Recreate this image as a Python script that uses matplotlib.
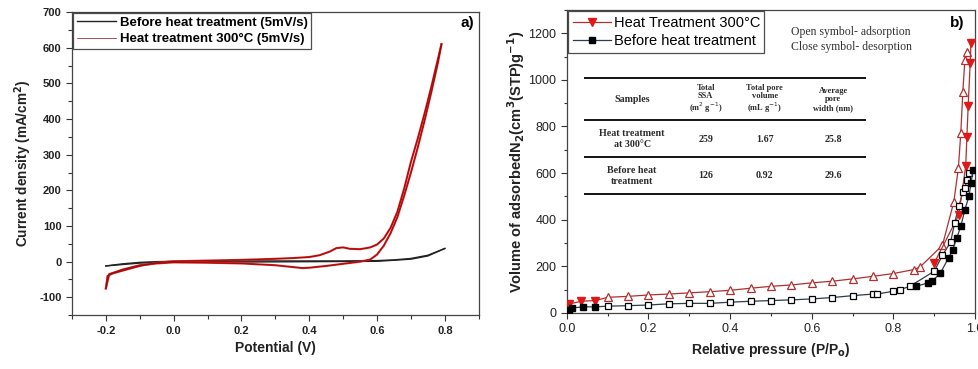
import matplotlib
matplotlib.use("Agg")
import matplotlib.pyplot as plt
from matplotlib.ticker import MultipleLocator

plt.rcParams['font.family'] = ['Liberation Sans', 'DejaVu Sans']
plt.rcParams['axes.unicode_minus'] = False

# --- (a) cyclic voltammetry, 5 mV/s ---
before_fwd_E = [-0.2, -0.15, -0.1, -0.05, 0.0, 0.2, 0.4, 0.5, 0.6, 0.65, 0.7, 0.75, 0.8]
before_fwd_J = [-12, -6, -2, 0, 1, 2, 2, 2, 3, 5, 9, 18, 37]
before_rev_E = [0.8, 0.75, 0.7, 0.6, 0.4, 0.2, 0.0, -0.1, -0.2]
before_rev_J = [37, 16, 7, 1, 0, -1, -1, -4, -12]

heat_fwd_E = [-0.2, -0.195, -0.18, -0.15, -0.1, -0.05, 0.0, 0.1, 0.2, 0.3, 0.35, 0.4, 0.43,
              0.46, 0.48, 0.5, 0.52, 0.55, 0.58, 0.6, 0.62, 0.64, 0.66, 0.68, 0.7, 0.72,
              0.74, 0.76, 0.78, 0.79]
heat_fwd_J = [-75, -40, -33, -25, -12, -3, 1, 3, 5, 8, 10, 13, 18, 28, 38, 40, 36, 35, 40,
              48, 65, 95, 140, 205, 280, 345, 415, 490, 570, 610]
heat_rev_E = [0.79, 0.78, 0.76, 0.74, 0.72, 0.70, 0.68, 0.66, 0.64, 0.62, 0.60, 0.58, 0.55,
              0.5, 0.45, 0.4, 0.38, 0.35, 0.3, 0.2, 0.1, 0.0, -0.05, -0.1, -0.15, -0.19, -0.2]
heat_rev_J = [610, 560, 475, 395, 320, 250, 185, 125, 80, 45, 20, 6, 0, -6, -12, -17, -18,
              -15, -10, -5, -3, -2, -5, -10, -22, -35, -75]

# --- (b) N2 isotherms ---
heat_low_p = [0.005, 0.035, 0.07]
heat_low_v = [38, 50, 53]
heat_ads_p = [0.1, 0.15, 0.2, 0.25, 0.3, 0.35, 0.4, 0.45, 0.5, 0.55, 0.6, 0.65, 0.7, 0.75,
              0.8, 0.85, 0.865, 0.92, 0.948, 0.959, 0.965, 0.970, 0.975, 0.98]
heat_ads_v = [67, 71, 77, 81, 86, 91, 97, 106, 114, 120, 129, 136, 146, 157, 169, 186, 197,
              290, 477, 621, 771, 950, 1086, 1121]
heat_des_p = [0.99, 0.988, 0.983, 0.98, 0.977, 0.96, 0.9]
heat_des_v = [1157, 1071, 886, 757, 629, 420, 214]

before_low_p = [0.005, 0.012, 0.04, 0.07]
before_low_v = [14, 21, 26, 26]
before_ads_p = [0.1, 0.15, 0.2, 0.25, 0.3, 0.35, 0.4, 0.45, 0.5, 0.55, 0.6, 0.65, 0.7, 0.75,
                0.76, 0.8, 0.815, 0.84, 0.9, 0.92, 0.94, 0.95, 0.96, 0.97, 0.975, 0.98, 0.985]
before_ads_v = [29, 31, 34, 39, 41, 41, 46, 50, 53, 56, 60, 66, 74, 81, 81, 93, 99, 114, 179,
                247, 304, 386, 457, 517, 536, 571, 600]
before_des_p = [0.995, 0.99, 0.985, 0.975, 0.965, 0.955, 0.945, 0.935, 0.915, 0.895, 0.885, 0.855]
before_des_v = [614, 557, 500, 443, 371, 321, 271, 236, 171, 136, 129, 114]

table_header = ["Samples", "Total\nSSA\n(m$^2$ g$^{-1}$)", "Total pore\nvolume\n(mL g$^{-1}$)",
                "Average\npore\nwidth (nm)"]
table_rows = [["Heat treatment\nat 300°C", "259", "1.67", "25.8"],
              ["Before heat\ntreatment", "126", "0.92", "29.6"]]

fig = plt.figure(figsize=(9.79, 3.69), dpi=100)
ax1 = fig.add_axes([0.0735, 0.146, 0.4155, 0.821])
ax2 = fig.add_axes([0.579, 0.152, 0.417, 0.821])

red = '#e01818'
dark_red = '#7a1010'

# left panel
ax1.plot(before_fwd_E, before_fwd_J, color='#222222', lw=1.0, label='Before heat treatment (5mV/s)')
ax1.plot(before_rev_E, before_rev_J, color='#222222', lw=1.0)
ax1.plot(heat_fwd_E, heat_fwd_J, color=red, lw=1.5)
ax1.plot(heat_rev_E, heat_rev_J, color=red, lw=1.5)
ax1.plot(heat_fwd_E, heat_fwd_J, color=dark_red, lw=0.5, label='Heat treatment 300°C (5mV/s)')
ax1.plot(heat_rev_E, heat_rev_J, color=dark_red, lw=0.5)
ax1.set_xlim(-0.3, 0.9)
ax1.set_ylim(-150, 700)
ax1.xaxis.set_major_locator(MultipleLocator(0.2))
ax1.xaxis.set_minor_locator(MultipleLocator(0.1))
ax1.yaxis.set_major_locator(MultipleLocator(100))
ax1.yaxis.set_minor_locator(MultipleLocator(50))
ax1.set_xticks([-0.2, 0.0, 0.2, 0.4, 0.6, 0.8])
ax1.set_xticklabels(['-0.2', '0.0', '0.2', '0.4', '0.6', '0.8'])
ax1.tick_params(labelsize=8, direction='out', length=4, width=0.8, colors='#333333', labelcolor='#222222')
ax1.tick_params(which='minor', direction='out', length=3, width=0.8, colors='#333333')
for lab in ax1.get_xticklabels() + ax1.get_yticklabels():
    lab.set_fontweight('bold')
ax1.set_xlabel('Potential (V)', fontsize=10, fontweight='bold', color='#222222')
ax1.set_ylabel('Current density (mA/cm$^\\mathbf{2}$)', fontsize=9.8, fontweight='bold', color='#222222')
leg1 = ax1.legend(loc='upper left', frameon=True, fancybox=False, edgecolor='#222222',
                  borderaxespad=0.1, handlelength=3.0, handletextpad=0.3, borderpad=0.25,
                  labelspacing=0.3, prop={'weight': 'bold', 'size': 9.5})
leg1.get_frame().set_linewidth(0.9)
ax1.text(0.867, 669, 'a)', fontsize=11, fontweight='bold', ha='center', va='center')
for s in ax1.spines.values():
    s.set_color('#444444')
    s.set_linewidth(0.9)

# right panel
ax2.plot(heat_low_p + heat_ads_p, heat_low_v + heat_ads_v, color='#b03030', lw=0.9, zorder=2)
ax2.plot(heat_low_p, heat_low_v, 'v', color=red, ms=6, zorder=3)
ax2.plot(heat_ads_p, heat_ads_v, '^', mfc='white', mec='#b03030', mew=0.9, ms=6, ls='none', zorder=3)
ax2.plot(heat_des_p, heat_des_v, color='#b03030', lw=0.9, marker='v', mfc=red, mec=red, ms=6, zorder=3,
         label='Heat Treatment 300°C')

ax2.plot(before_low_p + before_ads_p, before_low_v + before_ads_v, color='#2e3d4a', lw=0.9, zorder=2)
ax2.plot(before_low_p, before_low_v, 's', color='black', ms=5, zorder=3)
ax2.plot(before_ads_p, before_ads_v, 's', mfc='white', mec='black', mew=0.9, ms=5, ls='none', zorder=3)
ax2.plot(before_des_p, before_des_v, color='#2e3d4a', lw=0.9, marker='s', mfc='black', mec='black', ms=5,
         zorder=3, label='Before heat treatment')

ax2.set_xlim(0, 1.0)
ax2.set_ylim(0, 1300)
ax2.xaxis.set_major_locator(MultipleLocator(0.2))
ax2.xaxis.set_minor_locator(MultipleLocator(0.1))
ax2.yaxis.set_major_locator(MultipleLocator(200))
ax2.yaxis.set_minor_locator(MultipleLocator(100))
ax2.tick_params(labelsize=9, direction='out', length=4, width=0.8, colors='#333333', labelcolor='#222222')
ax2.tick_params(which='minor', direction='out', length=2.5, width=0.8, colors='#333333')
ax2.set_xlabel('Relative pressure (P/P$_\\mathbf{o}$)', fontsize=10, fontweight='bold', color='#222222')
ax2.set_ylabel('Volume of adsorbedN$_\\mathbf{2}$(cm$^\\mathbf{3}$(STP)g$^\\mathbf{-1}$)', fontsize=10.5,
               fontweight='bold', color='#222222', labelpad=1)
leg2 = ax2.legend(loc='upper left', frameon=True, fancybox=False, edgecolor='#222222',
                  borderaxespad=0.1, handlelength=2.6, handletextpad=0.2, borderpad=0.3,
                  labelspacing=0.3, numpoints=1, fontsize=10.5)
leg2.get_frame().set_linewidth(0.9)
ax2.text(0.548, 1204, 'Open symbol- adsorption', family='Liberation Serif', fontsize=8.5,
         color='#333333', va='center')
ax2.text(0.548, 1140, 'Close symbol- desorption', family='Liberation Serif', fontsize=8.5,
         color='#333333', va='center')
ax2.text(0.956, 1243, 'b)', fontsize=11, fontweight='bold', ha='center', va='center')
for s in ax2.spines.values():
    s.set_color('#444444')
    s.set_linewidth(0.9)

# inset table with the texture properties
col_x = [0.16, 0.34, 0.485, 0.652]
rule_y = [1007, 826, 667, 510]
row_y = [916, 746, 588]
ax2.hlines(rule_y, 0.043, 0.734, colors='black', lw=1.3, transform=ax2.get_yaxis_transform())
for j, txt in enumerate(table_header):
    size = 7.2 if j == 0 else 6.0
    ax2.text(col_x[j], row_y[0], txt, transform=ax2.get_yaxis_transform(), ha='center', va='center',
             family='Liberation Serif', fontweight='bold', fontsize=size, color='#2a2a2a', linespacing=1.05)
for i, row in enumerate(table_rows):
    for j, txt in enumerate(row):
        ax2.text(col_x[j], row_y[i + 1], txt, transform=ax2.get_yaxis_transform(), ha='center',
                 va='center', family='Liberation Serif', fontweight='bold', fontsize=7.2,
                 color='#2a2a2a', linespacing=1.2)

fig.savefig('out.png', dpi=100)
